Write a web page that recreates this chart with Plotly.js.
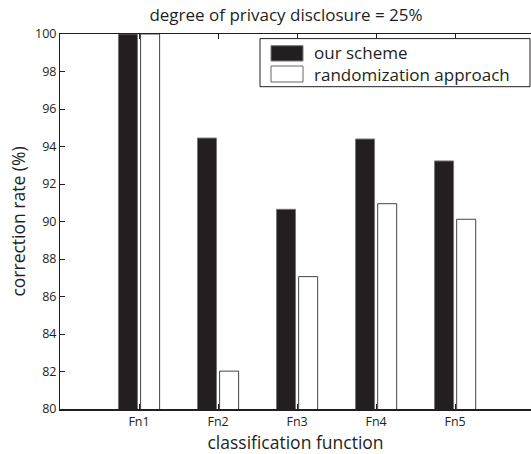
<!DOCTYPE html>
<html>
<head>
<meta charset="utf-8">
<script src="https://cdn.plot.ly/plotly-3.0.1.min.js"></script>
<style>html,body{margin:0;padding:0;background:#fff;}#chart{width:531px;height:454px;}</style>
</head>
<body>
<div id="chart"></div>
<script>
const categories = ["Fn1", "Fn2", "Fn3", "Fn4", "Fn5"];
const positions = [1, 2, 3, 4, 5];
const ourScheme = [100, 94.45, 90.65, 94.4, 93.23];
const randomization = [100, 82.02, 87.06, 90.95, 90.12];
const seriesNames = ["our scheme", "randomization approach"];

const FONT = "'Open Sans', 'Noto Sans', sans-serif";
const INK = "#231f20";

const traces = [
  {type: "bar", name: seriesNames[0], x: positions, y: ourScheme,
   marker: {color: INK, line: {color: "#777", width: 1}}, showlegend: false},
  {type: "bar", name: seriesNames[1], x: positions, y: randomization,
   marker: {color: "#ffffff", line: {color: "#444", width: 1}}, showlegend: false}
];

// legend box drawn as shapes (paper coords computed from pixel layout)
const L = 60, T = 34, W = 471, H = 375;
const px = v => (v - L) / W;
const py = v => (T + H - v) / H;

const layout = {
  width: 531, height: 454,
  margin: {l: 60, r: 0, t: 34, b: 45},
  paper_bgcolor: "#fff", plot_bgcolor: "#fff",
  font: {family: FONT, color: INK, size: 12},
  barmode: "group", bargap: 0.44, bargroupgap: 0.14,
  title: {text: "degree of privacy disclosure = 25%", font: {family: FONT, size: 17, color: INK},
          x: px(286), xanchor: "center", y: 1 - 15/454, yanchor: "middle", xref: "paper"},
  xaxis: {range: [0, 5.96], tickvals: positions, ticktext: categories,
          ticks: "inside", ticklen: 5, tickcolor: INK, showline: true, linecolor: INK, linewidth: 1.5,
          mirror: "ticks", showgrid: false, zeroline: false,
          tickfont: {family: FONT, size: 12.5, color: INK},
          title: {text: "classification function", font: {family: FONT, size: 17.5, color: INK}, standoff: 0}},
  yaxis: {range: [80, 100], dtick: 2, ticks: "inside", ticklen: 5, tickcolor: INK,
          showline: true, linecolor: INK, linewidth: 1, mirror: false, showgrid: false, zeroline: false,
          tickfont: {family: FONT, size: 12.5, color: INK},
          title: {text: "correction rate (%)", font: {family: FONT, size: 17.5, color: INK}, standoff: 4}},
  shapes: [
    {type: "rect", xref: "paper", yref: "paper", x0: px(260), x1: px(530), y0: py(86.7), y1: py(38.6),
     line: {color: INK, width: 1}, fillcolor: "#fff", layer: "above"},
    {type: "rect", xref: "paper", yref: "paper", x0: px(271), x1: px(303), y0: py(61), y1: py(45.7),
     line: {color: "#777", width: 1}, fillcolor: INK, layer: "above"},
    {type: "rect", xref: "paper", yref: "paper", x0: px(271), x1: px(303), y0: py(82), y1: py(66),
     line: {color: "#666", width: 1}, fillcolor: "#fff", layer: "above"}
  ],
  annotations: [
    {xref: "paper", yref: "paper", x: px(312), y: py(53), xanchor: "left", yanchor: "middle",
     text: seriesNames[0], showarrow: false, font: {family: FONT, size: 17, color: INK}},
    {xref: "paper", yref: "paper", x: px(312), y: py(74), xanchor: "left", yanchor: "middle",
     text: seriesNames[1], showarrow: false, font: {family: FONT, size: 17, color: INK}}
  ]
};

Plotly.newPlot("chart", traces, layout, {displayModeBar: false, staticPlot: true});
</script>
</body>
</html>
